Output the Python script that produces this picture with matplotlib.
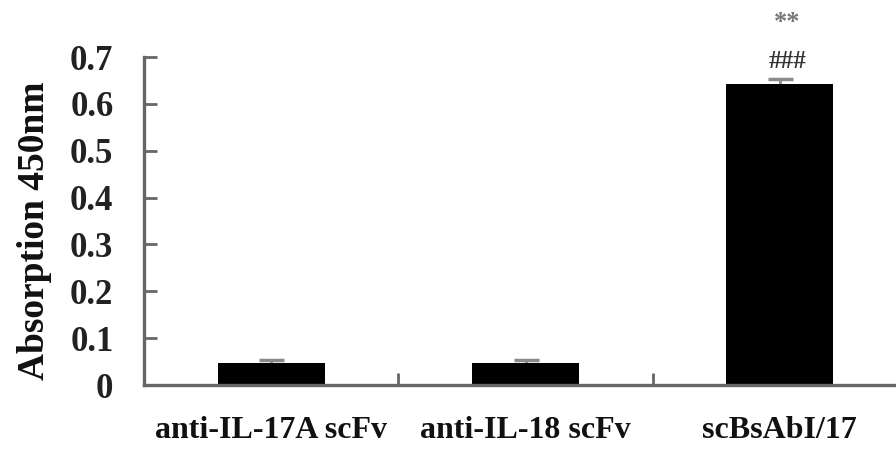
import matplotlib
matplotlib.use("Agg")
import matplotlib.pyplot as plt
import numpy as np

categories = ["anti-IL-17A scFv", "anti-IL-18 scFv", "scBsAbI/17"]
values = [0.048, 0.048, 0.643]
errors = [0.006, 0.005, 0.009]
ytick_values = [0, 0.1, 0.2, 0.3, 0.4, 0.5, 0.6, 0.7]
ytick_labels = ["0", "0.1", "0.2", "0.3", "0.4", "0.5", "0.6", "0.7"]
sig_marks = ["###", "**"]

plt.rcParams["font.family"] = ["Liberation Serif", "DejaVu Serif"]
plt.rcParams["font.weight"] = "bold"

W, H = 896, 453
fig = plt.figure(figsize=(W / 100, H / 100), dpi=100)
ax = fig.add_axes([144 / W, (H - 385) / H, (907 - 144) / W, (385 - 57) / H])

x = np.arange(len(categories))
ax.bar(x, values, width=0.42, color="black", zorder=3)
ax.errorbar(x, values, yerr=errors, fmt="none", ecolor="#8a8a8a",
            elinewidth=2, capsize=9, capthick=2.5, zorder=2)

ax.set_xlim(-0.5, len(categories) - 0.5)
ax.set_ylim(0, 0.7)

spine_col = "#666666"
for s in ["top", "right"]:
    ax.spines[s].set_visible(False)
for s in ["left", "bottom"]:
    ax.spines[s].set_color(spine_col)
    ax.spines[s].set_linewidth(2.4)
    ax.spines[s].set_zorder(4)

ax.set_yticks(ytick_values)
ax.set_yticklabels(ytick_labels, fontsize=25, fontweight="bold")
ax.tick_params(axis="y", direction="in", length=9, width=2, color=spine_col,
               pad=22, labelcolor="#222222")

# category labels sit under each bar; ticks mark the boundaries between groups
ax.set_xticks(x)
ax.set_xticklabels(categories, fontsize=23, fontweight="bold")
ax.tick_params(axis="x", which="major", length=0, pad=22, labelcolor="#111111")
ax.set_xticks(x[:-1] + 0.5, minor=True)
ax.tick_params(axis="x", which="minor", direction="in", length=9, width=2,
               color=spine_col)

ax.set_ylabel("Absorption 450nm", fontsize=27, fontweight="bold",
              color="#111111")
ax.yaxis.set_label_coords(-0.12, 0.47)

# significance marks above the scBsAbI/17 bar
ax.text(x[2] + 0.03, 0.690, sig_marks[0], ha="center", va="center",
        fontsize=18, fontweight="bold", color="#333333", clip_on=False)
ax.text(x[2] + 0.03, 0.774, sig_marks[1], ha="center", va="center",
        fontsize=19, fontweight="bold", color="#777777", clip_on=False)

fig.savefig("out.png", dpi=100)
